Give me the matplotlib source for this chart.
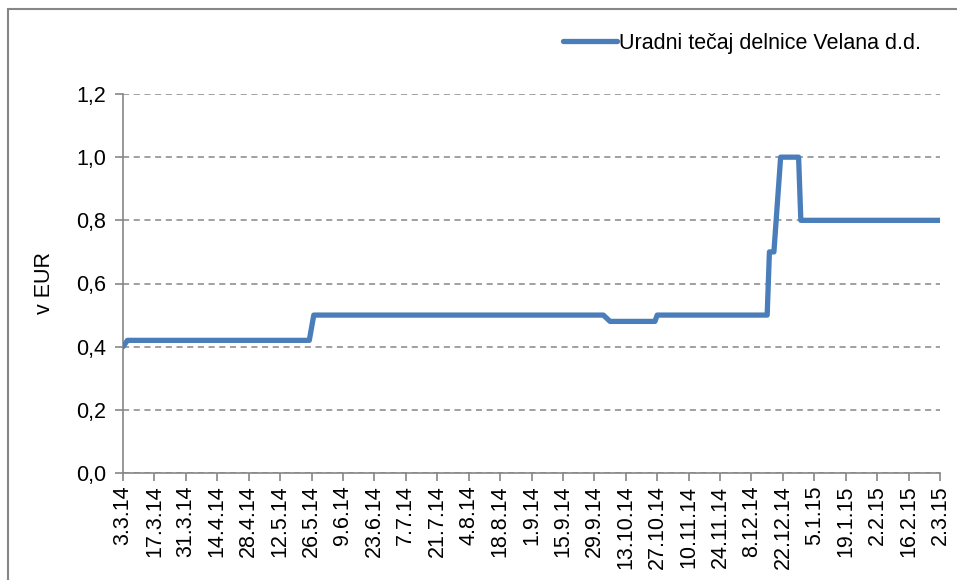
"""Uradni tečaj delnice Velana d.d. (3.3.2014 - 2.3.2015)."""

import datetime as dt

import matplotlib
matplotlib.use("Agg")
import matplotlib.pyplot as plt
from matplotlib.patches import Rectangle

plt.rcParams["font.family"] = ["Liberation Sans", "DejaVu Sans"]

# change points of the quoted price (EUR)
price_dates = [
    "2014-03-03", "2014-03-05", "2014-05-25", "2014-05-27", "2014-10-03",
    "2014-10-06", "2014-10-26", "2014-10-27", "2014-12-15", "2014-12-16",
    "2014-12-18", "2014-12-21", "2014-12-29", "2014-12-30", "2015-03-02",
]
price_values = [
    0.40, 0.42, 0.42, 0.50, 0.50,
    0.48, 0.48, 0.50, 0.50, 0.70,
    0.70, 1.00, 1.00, 0.80, 0.80,
]
series_label = "Uradni tečaj delnice Velana d.d."
y_ticks = [0.0, 0.2, 0.4, 0.6, 0.8, 1.0, 1.2]

LINE = "#4A7EBB"
AXIS = "#868686"
FS = 15.5

dates = [dt.datetime.strptime(d, "%Y-%m-%d") for d in price_dates]
start, end = dates[0], dates[-1]
tick_dates = []
d = start
while d <= end:
    tick_dates.append(d)
    d += dt.timedelta(days=14)

fig = plt.figure(figsize=(9.57, 5.80), dpi=100)
ax = fig.add_axes([123 / 957, 1 - 473 / 580, (940 - 123) / 957, (473 - 94) / 580])

ax.plot(dates, price_values, color=LINE, linewidth=3.8, label=series_label,
        solid_joinstyle="round", solid_capstyle="round", zorder=3)

ax.set_xlim(start, end)
ax.set_ylim(0, 1.2)
ax.set_yticks(y_ticks)
ax.set_yticklabels([f"{v:.1f}".replace(".", ",") for v in y_ticks])
ax.set_xticks(tick_dates)
ax.set_xticklabels([f"{t.day}.{t.month}.{t.strftime('%y')}" for t in tick_dates],
                   rotation=90)

ax.grid(axis="y", color=AXIS, linestyle=(0, (4, 3)), linewidth=1.1)
ax.set_axisbelow(True)
for side in ("top", "right"):
    ax.spines[side].set_visible(False)
for side in ("left", "bottom"):
    ax.spines[side].set_color(AXIS)
    ax.spines[side].set_linewidth(1.2)
ax.tick_params(axis="both", colors=AXIS, labelcolor="black", labelsize=FS,
               length=6, width=1.2)
ax.tick_params(axis="y", pad=6)
ax.tick_params(axis="x", pad=3)
ax.set_ylabel("v EUR", fontsize=FS, labelpad=15)

ax.legend(loc="center right", bbox_to_anchor=(921 / 957, 1 - 43 / 580),
          bbox_transform=fig.transFigure, frameon=False, fontsize=FS,
          handlelength=2.5, handletextpad=0.1, borderaxespad=0, borderpad=0)

fig.add_artist(Rectangle((8 / 957, -0.02), 1.0, 1 - 9 / 580 + 0.02,
                         transform=fig.transFigure, fill=False,
                         edgecolor=AXIS, linewidth=1.5))

fig.savefig("out.png", dpi=100)
